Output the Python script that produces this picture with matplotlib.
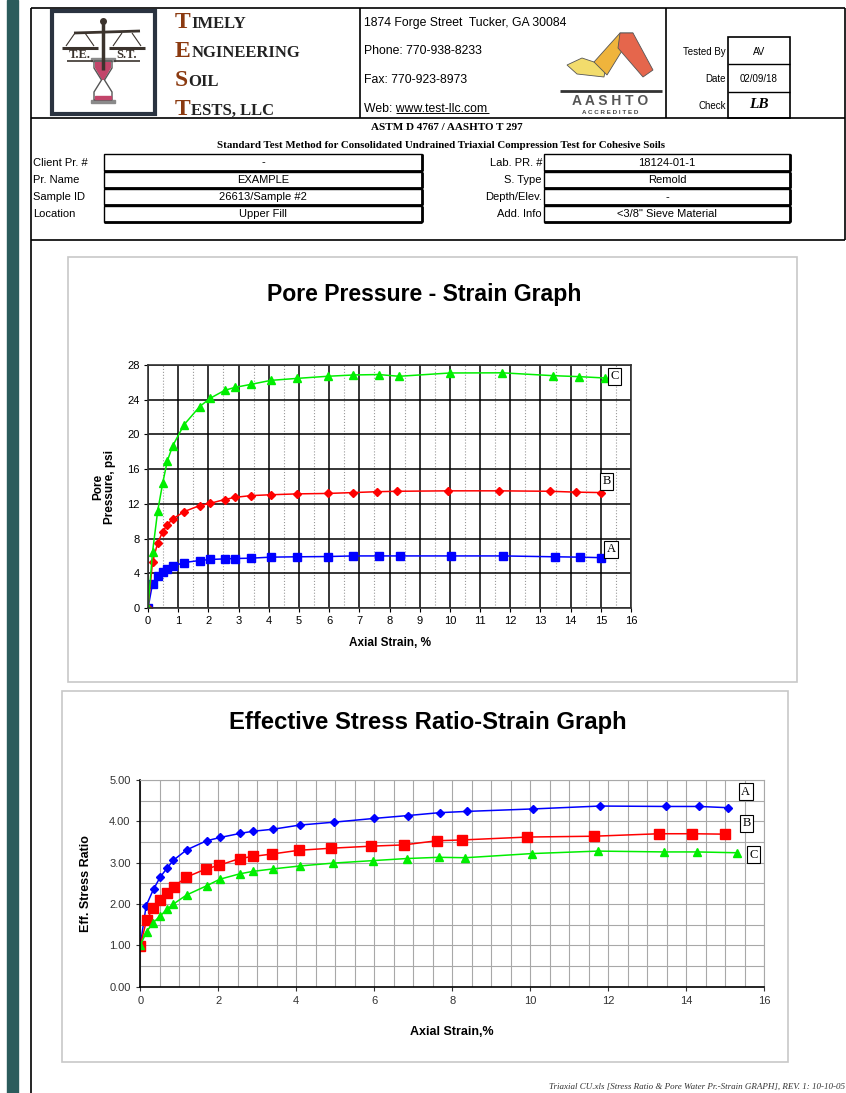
import matplotlib.pyplot as plt
from matplotlib.patches import Rectangle, Polygon
from matplotlib.ticker import MultipleLocator

pp_strain_a = [0, 0.15, 0.32, 0.49, 0.64, 0.82, 1.19, 1.71, 2.05, 2.54, 2.88, 3.41, 4.07, 4.95,
               5.95, 6.80, 7.66, 8.36, 10.05, 11.77, 13.48, 14.31, 15.0]
pp_a = [0, 2.8, 3.66, 4.16, 4.55, 4.8, 5.24, 5.47, 5.59, 5.66, 5.7, 5.74, 5.86, 5.9,
        5.93, 6.0, 6.0, 6.0, 6.0, 6.0, 5.9, 5.86, 5.8]
pp_strain_b = [0, 0.15, 0.32, 0.49, 0.64, 0.82, 1.19, 1.71, 2.05, 2.54, 2.88, 3.41, 4.07, 4.95,
               5.95, 6.80, 7.57, 8.25, 9.93, 11.62, 13.32, 14.17, 15.0]
pp_b = [0, 5.3, 7.5, 8.8, 9.6, 10.25, 11.1, 11.8, 12.05, 12.5, 12.75, 12.95, 13.05, 13.15,
        13.2, 13.3, 13.4, 13.45, 13.5, 13.5, 13.45, 13.35, 13.3]
pp_strain_c = [0, 0.15, 0.32, 0.49, 0.64, 0.82, 1.19, 1.71, 2.05, 2.54, 2.88, 3.41, 4.07, 4.95,
               5.95, 6.80, 7.64, 8.32, 10.0, 11.73, 13.42, 14.27, 15.15]
pp_c = [0, 6.43, 11.17, 14.45, 16.95, 18.7, 21.1, 23.2, 24.15, 25.08, 25.42, 25.77, 26.23, 26.46,
        26.7, 26.85, 26.9, 26.7, 27.08, 27.1, 26.77, 26.66, 26.5]

esr_strain_a = [0, 0.15, 0.34, 0.51, 0.68, 0.85, 1.19, 1.70, 2.05, 2.57, 2.89, 3.41, 4.09, 4.97,
                5.99, 6.86, 7.68, 8.37, 10.07, 11.79, 13.49, 14.33, 15.08]
esr_a = [1.0, 1.96, 2.36, 2.65, 2.86, 3.06, 3.31, 3.53, 3.61, 3.71, 3.76, 3.81, 3.91, 3.98,
         4.07, 4.14, 4.21, 4.24, 4.30, 4.37, 4.36, 4.36, 4.33]
esr_strain_b = [0, 0.16, 0.33, 0.51, 0.68, 0.86, 1.18, 1.69, 2.03, 2.55, 2.88, 3.38, 4.07, 4.90,
                5.93, 6.76, 7.6, 8.26, 9.93, 11.63, 13.31, 14.15, 14.99]
esr_b = [0.99, 1.61, 1.91, 2.10, 2.26, 2.42, 2.65, 2.85, 2.94, 3.10, 3.15, 3.21, 3.30, 3.35,
         3.40, 3.43, 3.53, 3.55, 3.62, 3.64, 3.70, 3.70, 3.69]
esr_strain_c = [0, 0.16, 0.33, 0.51, 0.68, 0.85, 1.19, 1.70, 2.04, 2.55, 2.89, 3.41, 4.09, 4.95,
                5.97, 6.83, 7.66, 8.34, 10.04, 11.74, 13.44, 14.28, 15.31]
esr_c = [1.0, 1.33, 1.55, 1.71, 1.87, 2.0, 2.22, 2.44, 2.60, 2.73, 2.79, 2.85, 2.92, 2.99,
         3.05, 3.10, 3.13, 3.12, 3.22, 3.28, 3.26, 3.26, 3.24]

info_left_labels = ['Client Pr. #', 'Pr. Name', 'Sample ID', 'Location']
info_left_values = ['-', 'EXAMPLE', '26613/Sample #2', 'Upper Fill']
info_right_labels = ['Lab. PR. #', 'S. Type', 'Depth/Elev.', 'Add. Info']
info_right_values = ['18124-01-1', 'Remold', '-', '<3/8" Sieve Material']
address_lines = ['1874 Forge Street  Tucker, GA 30084', 'Phone: 770-938-8233',
                 'Fax: 770-923-8973', 'Web: www.test-llc.com']
sign_labels = ['Tested By', 'Date', 'Check']
sign_values = ['AV', '02/09/18', '']
name_rows = [('T', 'IMELY'), ('E', 'NGINEERING'), ('S', 'OIL'), ('T', 'ESTS, LLC')]

SANS = 'Liberation Sans'
SERIF = 'Liberation Serif'
W, H = 846, 1093

fig = plt.figure(figsize=(W / 100, H / 100), dpi=100)
bg = fig.add_axes([0, 0, 1, 1])
bg.set_xlim(0, W)
bg.set_ylim(H, 0)
bg.axis('off')
renderer = fig.canvas.get_renderer()


def line(x0, y0, x1, y1, lw=1.0, color='black'):
    bg.plot([x0, x1], [y0, y1], color=color, lw=lw, solid_capstyle='butt')


# left teal strip and page borders
bg.add_patch(Rectangle((7, 0), 11, H, color='#2b5c5c'))
line(31, 8, 31, H, lw=1.2)
line(31, 8, 845, 8, lw=1.2)
line(845, 8, 845, 240, lw=1.2)
line(31, 118, 845, 118, lw=1.2)
line(31, 240, 845, 240, lw=1.2)
line(360, 8, 360, 118, lw=1.2)
line(666, 8, 666, 118, lw=1.2)

# --- logo ---
bg.add_patch(Rectangle((52, 11), 103, 103, fill=False, ec='#2a3340', lw=3))
dark = '#3b332d'
line(103, 22, 103, 70, lw=2.5, color=dark)
bg.plot(103, 21, 'o', ms=4, color=dark)
line(74, 33, 140, 31, lw=2, color=dark)
for cx in (80, 127):
    line(cx - 5, 33, cx - 14, 46, lw=0.8, color=dark)
    line(cx + 5, 33, cx + 14, 46, lw=0.8, color=dark)
    line(cx - 18, 48, cx + 18, 48, lw=2.2, color=dark)
bg.text(80, 55, 'T.E.', ha='center', va='center', fontsize=9, fontweight='bold',
        family=SERIF, color=dark)
bg.text(127, 55, 'S.T.', ha='center', va='center', fontsize=9, fontweight='bold',
        family=SERIF, color=dark)
line(67, 61, 93, 61, lw=1.2, color=dark)
line(114, 61, 140, 61, lw=1.2, color=dark)
# hourglass
bg.add_patch(Rectangle((91, 58), 24, 3, color='#8a8a8a'))
bg.add_patch(Rectangle((91, 100), 24, 3, color='#8a8a8a'))
bg.add_patch(Polygon([(95, 62), (111, 62), (111, 68), (104, 80), (102, 80), (95, 68)],
                     closed=True, fc='#c2456a', ec='none'))
bg.add_patch(Polygon([(94, 61), (112, 61), (112, 68), (104.5, 80), (112, 92), (112, 100),
                      (94, 100), (94, 92), (101.5, 80), (94, 68)],
                     closed=True, fill=False, ec='#555555', lw=1))
bg.add_patch(Rectangle((95, 96), 16, 3, color='#c2456a'))

# --- company name ---
inv = bg.transData.inverted()
for i, (big, rest) in enumerate(name_rows):
    y = 28 + i * 29
    t = bg.text(175, y, big, fontsize=17, fontweight='bold', family=SERIF,
                color='#8b3a10', va='baseline')
    x_end = inv.transform(t.get_window_extent(renderer=renderer))[1][0]
    bg.text(x_end + 0.5, y, rest, fontsize=12, fontweight='bold', family=SERIF,
            color='#222222', va='baseline')

# --- address ---
for i, s in enumerate(address_lines):
    bg.text(364, 23 + i * 28.5, s, fontsize=8.8, family=SANS, va='center')
line(396, 113, 489, 113, lw=0.7)

# --- AASHTO mark ---
bg.add_patch(Polygon([(567, 65), (582, 58), (606, 66), (604, 77), (577, 74)],
                     closed=True, fc='#f2dc6c', ec='#555555', lw=0.6))
bg.add_patch(Polygon([(594, 62), (620, 33), (633, 33), (607, 75)],
                     closed=True, fc='#efb43c', ec='#555555', lw=0.6))
bg.add_patch(Polygon([(620, 33), (633, 33), (653, 70), (643, 77), (618, 48)],
                     closed=True, fc='#e5664c', ec='#555555', lw=0.6))
line(560, 91, 662, 91, lw=2, color='#333333')
bg.text(610, 101, 'A A S H T O', ha='center', va='center', fontsize=10,
        fontweight='bold', family=SANS, color='#555555')
bg.text(610, 113, 'A C C R E D I T E D', ha='center', va='center', fontsize=4.5,
        fontweight='bold', family=SANS, color='#444444')

# --- tested by box ---
bg.add_patch(Rectangle((728, 37), 62, 81, fill=False, ec='black', lw=1.2))
line(728, 64, 790, 64, lw=1)
line(728, 92, 790, 92, lw=1)
for i, (lab, val) in enumerate(zip(sign_labels, sign_values)):
    y = 52 + i * 27
    bg.text(726, y, lab, ha='right', va='center', fontsize=7, family=SANS)
    bg.text(759, y, val, ha='center', va='center', fontsize=7, family=SANS)
bg.text(759, 104, 'LB', ha='center', va='center', fontsize=11, fontweight='bold',
        style='italic', family=SERIF)

# --- test method ---
bg.text(447, 128, 'ASTM D 4767 / AASHTO T 297', ha='center', va='center',
        fontsize=8, fontweight='bold', family=SERIF)
bg.text(441, 145, 'Standard Test Method for Consolidated Undrained Triaxial Compression '
        'Test for Cohesive Soils', ha='center', va='center', fontsize=7.8,
        fontweight='bold', family=SERIF)

rows_y = [154, 171.5, 188.5, 205.5]
for i in range(4):
    y0 = rows_y[i]
    yc = y0 + 8.5
    bg.text(33, yc, info_left_labels[i], va='center', fontsize=8, family=SANS)
    bg.add_patch(Rectangle((104, y0), 318, 16.5, fill=False, ec='black', lw=1))
    line(104, y0 + 16.5, 422, y0 + 16.5, lw=2)
    line(422, y0, 422, y0 + 16.5, lw=2)
    bg.text(263, yc, info_left_values[i], ha='center', va='center', fontsize=8, family=SANS)
    bg.text(542, yc, info_right_labels[i], ha='right', va='center', fontsize=8, family=SANS)
    bg.add_patch(Rectangle((544, y0), 246, 16.5, fill=False, ec='black', lw=1))
    line(544, y0 + 16.5, 790, y0 + 16.5, lw=2)
    line(790, y0, 790, y0 + 16.5, lw=2)
    bg.text(667, yc, info_right_values[i], ha='center', va='center', fontsize=8, family=SANS)

# chart frames
bg.add_patch(Rectangle((68, 257), 729, 425, fill=False, ec='#c8c8c8', lw=1.2))
bg.add_patch(Rectangle((62, 691), 726, 371, fill=False, ec='#c8c8c8', lw=1.2))

bg.text(424, 295, 'Pore Pressure - Strain Graph', ha='center', va='center',
        fontsize=16.6, fontweight='bold', family=SANS)
bg.text(428, 723, 'Effective Stress Ratio-Strain Graph', ha='center', va='center',
        fontsize=17.2, fontweight='bold', family=SANS)

bg.text(845, 1087, 'Triaxial CU.xls [Stress Ratio & Pore Water Pr.-Strain GRAPH], '
        'REV. 1: 10-10-05', ha='right', va='center', fontsize=6.5, style='italic',
        family=SERIF, color='#333333')

# ---- pore pressure chart ----
ax1 = fig.add_axes([148 / W, 1 - 608 / H, (631 - 148) / W, (608 - 365) / H])
ax1.set_xlim(0, 16)
ax1.set_ylim(0, 28)
ax1.xaxis.set_major_locator(MultipleLocator(1))
ax1.xaxis.set_minor_locator(MultipleLocator(0.5))
ax1.yaxis.set_major_locator(MultipleLocator(4))
ax1.grid(which='major', color='black', lw=1.1)
ax1.grid(which='minor', axis='x', color='#9a9a9a', lw=0.8, ls=':')
ax1.set_axisbelow(True)
for s in ax1.spines.values():
    s.set_color('#333333')
    s.set_linewidth(1.2)
ax1.tick_params(labelsize=8, length=3, which='major', pad=3)
ax1.tick_params(which='minor', length=0)
for lab in ax1.get_xticklabels() + ax1.get_yticklabels():
    lab.set_family(SANS)

ax1.plot(pp_strain_a, pp_a, color='#0000ff', marker='s', ms=6, lw=1.1)
ax1.plot(pp_strain_b, pp_b, color='#ff0000', marker='D', ms=4, lw=1.1)
ax1.plot(pp_strain_c, pp_c, color='#00ee00', marker='^', ms=6, lw=1.1)
box = dict(boxstyle='square,pad=0.2', fc='white', ec='black', lw=0.8)
for lab, x, y in [('C', 15.45, 26.7), ('B', 15.2, 14.6), ('A', 15.35, 6.75)]:
    ax1.text(x, y, lab, ha='center', va='center', fontsize=9, family=SERIF,
             bbox=box, zorder=10)
ax1.set_xlabel('Axial Strain, %', fontsize=8.5, fontweight='bold', family=SANS, labelpad=8)
ax1.set_ylabel('Pore\nPressure, psi', fontsize=8.5, fontweight='bold', family=SANS,
               labelpad=8, linespacing=1.0)

# ---- effective stress ratio chart ----
ax2 = fig.add_axes([140.3 / W, 1 - 986.7 / H, (764 - 140.3) / W, (986.7 - 780) / H])
ax2.set_xlim(0, 16)
ax2.set_ylim(0, 5)
ax2.xaxis.set_major_locator(MultipleLocator(2))
ax2.xaxis.set_minor_locator(MultipleLocator(0.5))
ax2.yaxis.set_major_locator(MultipleLocator(1))
ax2.yaxis.set_minor_locator(MultipleLocator(0.5))
ax2.yaxis.set_major_formatter('{x:.2f}')
ax2.grid(which='both', color='#a8a8a8', lw=0.8)
ax2.set_axisbelow(True)
ax2.spines['top'].set_color('#a8a8a8')
ax2.spines['right'].set_color('#a8a8a8')
ax2.spines['left'].set_linewidth(1.2)
ax2.spines['bottom'].set_linewidth(1.2)
ax2.tick_params(labelsize=8, length=3, which='major', colors='#333333', pad=4)
ax2.tick_params(which='minor', length=0)
for lab in ax2.get_xticklabels() + ax2.get_yticklabels():
    lab.set_family(SANS)

ax2.plot(esr_strain_a, esr_a, color='#0000ff', marker='D', ms=4.5, lw=1.1)
ax2.plot(esr_strain_b, esr_b, color='#ff0000', marker='s', ms=6.5, lw=1.1)
ax2.plot(esr_strain_c, esr_c, color='#00ee00', marker='^', ms=6, lw=1.1)
for lab, x, y in [('A', 15.53, 4.71), ('B', 15.55, 3.95), ('C', 15.73, 3.19)]:
    ax2.text(x, y, lab, ha='center', va='center', fontsize=9, family=SERIF,
             bbox=box, zorder=10, clip_on=False)
ax2.set_xlabel('Axial Strain,%', fontsize=9, fontweight='bold', family=SANS, labelpad=14)
ax2.set_ylabel('Eff. Stress Ratio', fontsize=9, fontweight='bold', family=SANS, labelpad=12)

fig.savefig('out.png', dpi=100)
